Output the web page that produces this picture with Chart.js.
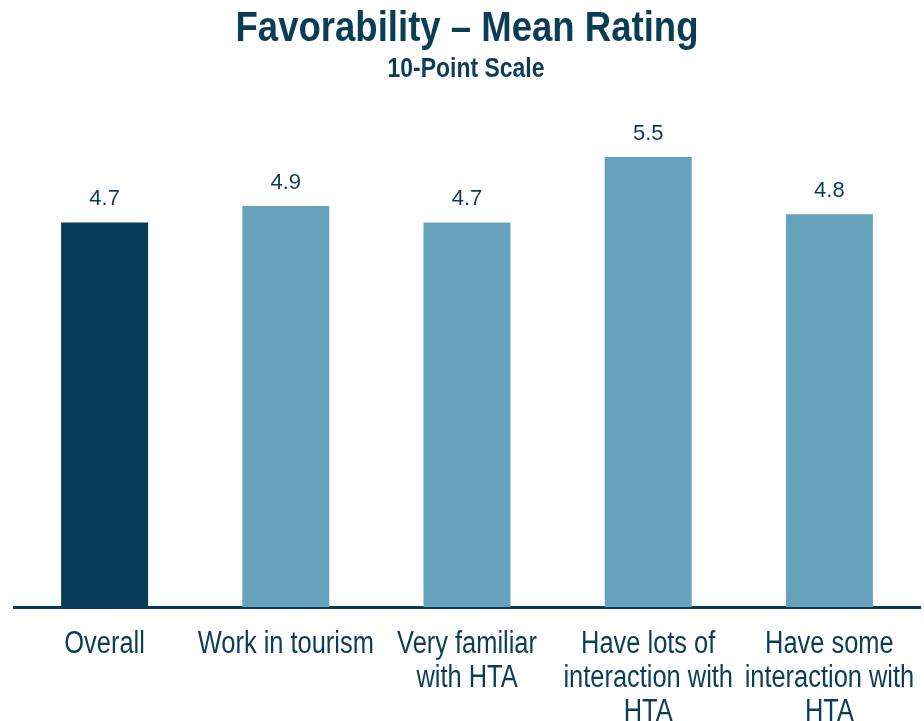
<!DOCTYPE html>
<html>
<head>
<meta charset="utf-8">
<script src="https://cdn.jsdelivr.net/npm/chart.js@4.4.0/dist/chart.umd.min.js"></script>
<style>
  html, body { margin: 0; padding: 0; background: #fff; }
  #wrap { width: 924px; height: 721px; }
</style>
</head>
<body>
<div id="wrap"><canvas id="fav-chart"></canvas></div>
<script>
// chart data
var categories = [['Overall'], ['Work in tourism'], ['Very familiar', 'with HTA'], ['Have lots of', 'interaction with', 'HTA'], ['Have some', 'interaction with', 'HTA']];
var meanRating = [4.7, 4.9, 4.7, 5.5, 4.8];
var barColors = ['#063b55', '#67a2bc', '#67a2bc', '#67a2bc', '#67a2bc'];
var titleText = 'Favorability – Mean Rating';
var subtitleText = '10-Point Scale';

var navy = '#0b3d56';
var sans = '"Liberation Sans", Arial, sans-serif';

// no Arial Narrow here, so squeeze Liberation Sans sideways
function narrowText(c, text, x, y, font, squeeze) {
    c.save();
    c.font = font;
    c.translate(x, y);
    c.scale(squeeze, 1);
    c.fillText(text, 0, 0);
    c.restore();
}

var textBits = {
    id: 'textBits',
    afterDraw: function (chart) {
        var c = chart.ctx;
        var xs = chart.scales.x;
        var meta = chart.getDatasetMeta(0);
        c.save();
        c.fillStyle = navy;
        c.textAlign = 'center';
        c.textBaseline = 'alphabetic';

        // title + subtitle
        narrowText(c, titleText, 467, 41, 'bold 42px ' + sans, 0.87);
        narrowText(c, subtitleText, 466, 77, 'bold 28px ' + sans, 0.82);

        // values above bars
        c.font = '22px ' + sans;
        meta.data.forEach(function (bar, i) {
            c.fillText(meanRating[i].toFixed(1), bar.x, bar.y - 17);
        });

        // category labels under the axis
        categories.forEach(function (lines, i) {
            var x = xs.getPixelForValue(i);
            lines.forEach(function (line, j) {
                narrowText(c, line, x, xs.bottom + 46 + j * 34, '31px ' + sans, 0.82);
            });
        });
        c.restore();
    }
};

var ctx = document.getElementById('fav-chart').getContext('2d');
var myChart = new Chart(ctx, {
    type: 'bar',
    data: {
        labels: categories.map(function (l) { return l.join(' '); }),
        datasets: [{
            label: 'Mean rating',
            data: meanRating,
            backgroundColor: barColors,
            borderWidth: 0,
            categoryPercentage: 1.0,
            barPercentage: 0.48
        }]
    },
    options: {
        responsive: true,
        maintainAspectRatio: false,
        animation: false,
        layout: {
            padding: { left: 14, right: 4, top: 116, bottom: 114 }
        },
        plugins: {
            legend: { display: false },
            tooltip: { enabled: false }
        },
        scales: {
            x: {
                grid: { display: false, drawTicks: false },
                border: { display: true, color: '#063b55', width: 3 },
                ticks: { display: false }
            },
            y: {
                display: false,
                min: 0,
                max: 6
            }
        }
    },
    plugins: [textBits]
});
</script>
</body>
</html>
